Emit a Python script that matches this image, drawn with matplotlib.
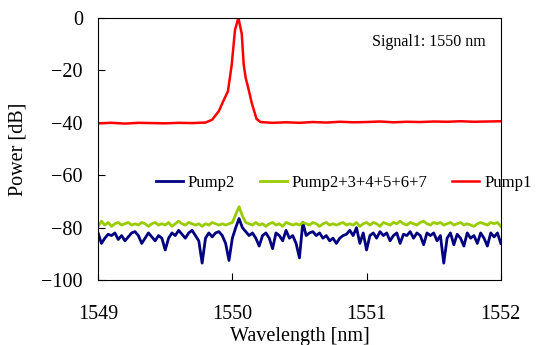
import numpy as np
import matplotlib
matplotlib.use("Agg")
import matplotlib.pyplot as plt

plt.rcParams["font.family"] = ["Liberation Serif", "DejaVu Serif"]

# === DATA ===
# Pump1 spectrum (coarse sampling, finer around the 1550 nm peak)
pump1_wl = [1549.0, 1549.1, 1549.2, 1549.3, 1549.4, 1549.5, 1549.6, 1549.7,
            1549.8, 1549.85, 1549.9, 1549.93, 1549.967, 1549.995, 1550.02,
            1550.045, 1550.07, 1550.085, 1550.1, 1550.12, 1550.145, 1550.18,
            1550.21, 1550.3, 1550.4, 1550.5, 1550.6, 1550.7, 1550.8, 1550.9,
            1551.0, 1551.1, 1551.2, 1551.3, 1551.4, 1551.5, 1551.6, 1551.7,
            1551.8, 1551.9, 1552.0]
pump1_db = [-40.2, -40.0, -40.3, -40.0, -40.1, -40.2, -40.0, -40.1,
            -39.9, -38.8, -35.5, -32.0, -28.0, -18.0, -4.5,
            0.0, -6.0, -18.0, -23.0, -27.0, -32.5, -38.5,
            -39.7, -40.0, -39.8, -40.0, -39.7, -39.9, -39.6, -39.8,
            -39.7, -39.5, -39.8, -39.6, -39.7, -39.5, -39.6, -39.4,
            -39.6, -39.5, -39.4]

# Pump2 and Pump2..7 spectra, 0.025 nm step from 1549 to 1552 nm
wl_grid = np.linspace(1549.0, 1552.0, 121)
pump2_db = [
    -82, -86, -84, -82.5, -83, -82, -84.5, -83, -85, -83.5,
    -82, -81.5, -83, -86, -84, -82, -83.5, -85, -83, -84,
    -88.5, -84, -82, -83, -81, -82.5, -84, -82, -81, -83,
    -85, -93.5, -84, -82, -83.5, -82, -81.5, -83, -86, -92.5,
    -84, -80, -76.5, -80, -81.5, -83, -82, -84, -87, -83,
    -82, -84, -88, -82, -83, -85, -81, -84, -83, -86,
    -91.5, -78, -83, -82, -81.5, -83, -82, -84, -83, -85,
    -84, -86, -84, -83, -82.5, -81, -83, -80, -86, -82,
    -88.5, -83, -82, -84, -81.5, -83, -82, -85, -83, -82,
    -86, -82.5, -83, -81.5, -84, -82, -83, -86.5, -82, -83,
    -82, -85, -83, -93.5, -84, -82, -86.5, -82.5, -84, -87,
    -82, -84, -83, -86, -82, -84, -87, -82, -83.5, -82,
    -86]
pump2to7_db = [
    -79.5, -77.5, -79, -78, -79.5, -78.5, -78, -79, -78.5, -78,
    -79, -78.5, -79, -78, -78.5, -79.5, -78.5, -78, -79, -78.5,
    -79, -78, -79.5, -78.5, -77.5, -78.5, -79, -78, -78.5, -79,
    -78.5, -79.5, -78.5, -79, -78, -78.5, -79, -78.5, -79, -78.5,
    -78, -75, -72, -75.5, -78, -78.5, -79, -78, -79, -78.5,
    -79.5, -78.5, -78, -79, -78.5, -79.5, -78, -78.5, -79, -78.5,
    -79, -78, -78.5, -79, -78, -78.5, -79.5, -78.5, -78, -79,
    -78.5, -79, -78.5, -78, -79, -78.5, -79, -78, -79.5, -78.5,
    -78, -79, -78, -78.5, -79.5, -78, -78.5, -79, -78, -78.5,
    -77.5, -78.5, -79, -78, -78.5, -79, -78, -77.5, -78.5, -79,
    -78, -78.5, -78, -79, -78.5, -78, -79, -78.5, -78, -79,
    -78.5, -79, -79.5, -78.5, -78, -78.5, -79, -78, -78.5, -78,
    -79.5]

x_ticks = [1549, 1550, 1551, 1552]
y_ticks = [0, -20, -40, -60, -80, -100]

# === PLOT ===
fig = plt.figure(figsize=(5.42, 3.45), dpi=100)
ax = fig.add_axes([0.181, 0.188, 0.743, 0.760])

ax.plot(wl_grid, pump2_db, color="#000080", lw=2.0, label="Pump2")
ax.plot(wl_grid, pump2to7_db, color="#99cc00", lw=2.0, label="Pump2+3+4+5+6+7")
ax.plot(pump1_wl, pump1_db, color="#ff0000", lw=1.8, label="Pump1")

ax.set_xlim(1549, 1552)
ax.set_ylim(-100, 0)
ax.set_xticks(x_ticks)
ax.set_yticks(y_ticks)
ax.tick_params(axis="both", direction="in", length=5, labelsize=14.5,
               top=False, right=False)
ax.tick_params(axis="x", pad=18)
ax.tick_params(axis="y", pad=11)
ax.set_xlabel("Wavelength [nm]", fontsize=14.5, labelpad=2)
ax.set_ylabel("Power [dB]", fontsize=14.5, labelpad=10)

ax.text(1551.04, -9.2, "Signal1: 1550 nm", fontsize=11.5, va="center")

ax.legend(loc="center", bbox_to_anchor=(0.61, 0.37), ncol=3, frameon=False,
          fontsize=12, handlelength=1.6, handletextpad=0.3,
          columnspacing=1.5)

fig.savefig("out.png", dpi=100)
